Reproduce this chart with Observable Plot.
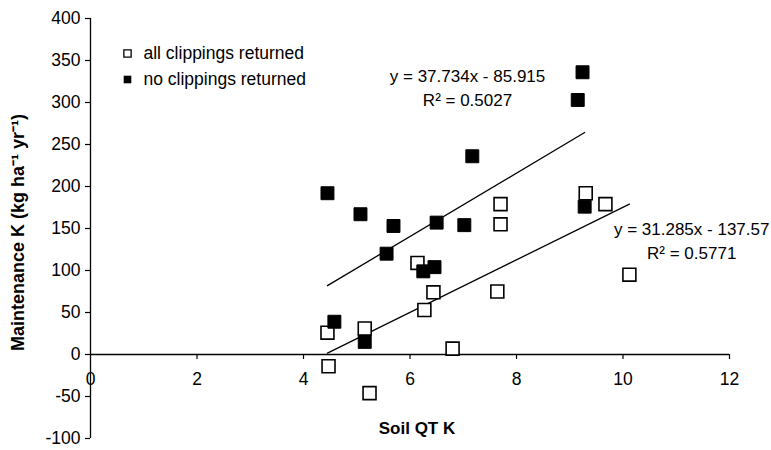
<!DOCTYPE html>
<html><head><meta charset="utf-8">
<script src="https://cdn.jsdelivr.net/npm/d3@7"></script>
<script src="https://cdn.jsdelivr.net/npm/@observablehq/plot@0.6"></script>
<style>body{margin:0;background:#fff}</style>
</head><body><div id="chart"></div>
<script>
// all clippings returned (open squares)
const allX = [4.45, 4.47, 5.15, 5.24, 6.14, 6.44, 6.27, 6.80, 7.70, 7.70, 7.64, 9.30, 9.67, 10.12];
const allY = [26, -14, 31, -46, 109, 74, 53, 7, 179, 155, 75, 192, 179, 95];
// no clippings returned (filled squares)
const noX = [4.45, 4.58, 5.07, 5.15, 5.56, 5.69, 6.25, 6.46, 6.50, 7.02, 7.17, 9.15, 9.24, 9.28];
const noY = [192, 39, 167, 15, 120, 153, 99, 104, 157, 154, 236, 303, 336, 176];
// fitted trend lines (from equations on chart)
const seriesNames = ["all clippings returned", "no clippings returned"];
const slopes = [31.285, 37.734];
const intercepts = [-137.57, -85.915];
const eqLabels = ["y = 31.285x - 137.57\nR\u00b2 = 0.5771", "y = 37.734x - 85.915\nR\u00b2 = 0.5027"];
const xTicks = [0, 2, 4, 6, 8, 10, 12];
const yTicks = [-100, -50, 0, 50, 100, 150, 200, 250, 300, 350, 400];

const all = allX.map((x, i) => ({x, y: allY[i]}));
const no = noX.map((x, i) => ({x, y: noY[i]}));
const fit = [allX, noX].flatMap((xs, k) => d3.extent(xs).map(x => ({k, x, y: slopes[k] * x + intercepts[k]})));

const font = "'Liberation Sans', Arial, sans-serif";
const chart = Plot.plot({
  width: 771, height: 450,
  marginLeft: 90, marginRight: 42, marginTop: 18, marginBottom: 12,
  x: {domain: [0, 12], axis: null},
  y: {domain: [-100, 400], axis: null},
  style: {fontFamily: font, fontSize: "17px", color: "#000", background: "#fff"},
  marks: [
    Plot.axisY(yTicks, {tickSize: 5, tickPadding: 5, label: null, fontSize: 17.5, strokeWidth: 1.2, tickFormat: d => String(d)}),
    Plot.ruleX([0], {x: d => d, stroke: "#000", strokeWidth: 1.3}),
    Plot.ruleY([0], {y: d => d, stroke: "#000", strokeWidth: 1.3}),
    Plot.ruleX(xTicks.filter(d => d > 0), {x: d => d, y1: () => 0, y2: () => 0, insetBottom: -5, stroke: "#000", strokeWidth: 1.2}),
    Plot.text(xTicks, {x: d => d, y: () => 0, dy: 25, text: d => String(d), fontSize: 17.5}),
    Plot.line(fit, {x: "x", y: "y", z: "k", stroke: "#000", strokeWidth: 1.3}),
    Plot.dot(all, {x: "x", y: "y", symbol: "square", r: 7.3, fill: "#fff", stroke: "#000", strokeWidth: 1.6}),
    Plot.dot(no, {x: "x", y: "y", symbol: "square", r: 7.3, fill: "#000", stroke: "#000", strokeWidth: 1}),
    // legend
    Plot.dot([seriesNames[0]], {frameAnchor: "top-left", dx: 37, dy: 35, symbol: "square", r: 4.1, fill: "#fff", stroke: "#000", strokeWidth: 1.3}),
    Plot.dot([seriesNames[1]], {frameAnchor: "top-left", dx: 37, dy: 61, symbol: "square", r: 4.3, fill: "#000"}),
    Plot.text([seriesNames[0]], {frameAnchor: "top-left", dx: 53, dy: 35, text: d => d, textAnchor: "start", lineAnchor: "middle", fontSize: 17.5}),
    Plot.text([seriesNames[1]], {frameAnchor: "top-left", dx: 53, dy: 61, text: d => d, textAnchor: "start", lineAnchor: "middle", fontSize: 17.5}),
    // equations
    Plot.text([eqLabels[1]], {x: () => 7.08, y: () => 319, text: d => d, lineHeight: 1.41, lineAnchor: "middle", textAnchor: "middle", fontSize: 17}),
    Plot.text([eqLabels[0]], {x: () => 11.29, y: () => 137, text: d => d, lineHeight: 1.41, lineAnchor: "middle", textAnchor: "middle", fontSize: 17}),
    // axis titles
    Plot.text(["Soil QT K"], {frameAnchor: "bottom", dx: 7, dy: -10, text: d => d, fontWeight: "bold", fontSize: 17, textAnchor: "middle", lineAnchor: "middle"}),
    Plot.text(["Maintenance K (kg ha\u207b\u00b9 yr\u207b\u00b9)"], {frameAnchor: "left", dx: -72, dy: 4, rotate: -90, text: d => d, fontWeight: "bold", fontSize: 18, textAnchor: "middle", lineAnchor: "middle"})
  ]
});
document.getElementById("chart").append(chart);
</script>
</body></html>
